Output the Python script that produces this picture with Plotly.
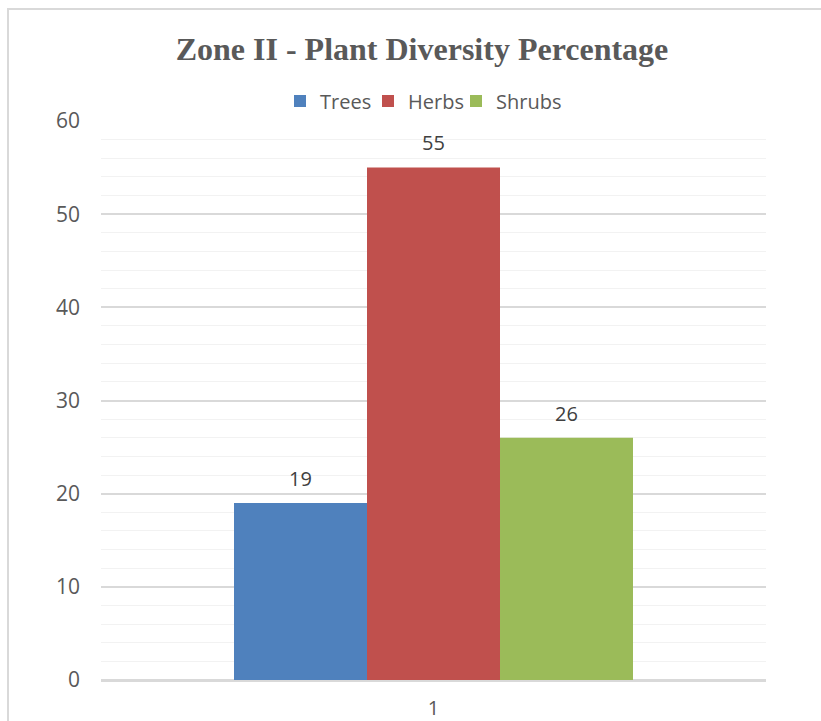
import plotly.graph_objects as go

categories = ["1"]
series_names = ["Trees", "Herbs", "Shrubs"]
trees = [19]
herbs = [55]
shrubs = [26]
series_values = [trees, herbs, shrubs]
colors = ["#4f81bd", "#c0504d", "#9bbb59"]
y_ticks = [0, 10, 20, 30, 40, 50, 60]

fig = go.Figure()
for name, vals, col in zip(series_names, series_values, colors):
    fig.add_trace(go.Bar(
        x=categories, y=vals, name=name, marker=dict(color=col, line=dict(width=0)),
        offsetgroup=name, hoverinfo="skip",
    ))
for name, vals in zip(series_names, series_values):
    fig.add_trace(go.Scatter(
        x=categories, y=vals, mode="markers+text", text=[str(v) for v in vals],
        textposition="top center", offsetgroup=name, showlegend=False,
        marker=dict(size=18, opacity=0), cliponaxis=False,
        textfont=dict(family="Open Sans", size=20, color="#404040"), hoverinfo="skip",
    ))
# invisible spacer entry so the last legend label is not clipped
fig.add_trace(go.Scatter(x=[None], y=[None], mode="markers", name=" ",
                         marker=dict(color="rgba(0,0,0,0)", size=1, line=dict(width=0, color="rgba(0,0,0,0)")),
                         showlegend=True, hoverinfo="skip"))

fig.update_layout(
    width=821, height=721, autosize=False,
    margin=dict(l=101, r=55, t=121, b=41, autoexpand=False),
    paper_bgcolor="white", plot_bgcolor="white",
    barmode="group", bargap=0.4, bargroupgap=0,
    scattermode="group", scattergap=0.4,
    title=dict(text="<b>Zone II - Plant Diversity Percentage</b>", x=422/821, xanchor="center",
               y=1 - 49/721, yanchor="middle", yref="container",
               font=dict(family="Liberation Serif", size=32, color="#595959")),
    legend=dict(orientation="h", x=(280-101)/665, xanchor="left", y=(680-101)/559, yanchor="middle",
                font=dict(family="Open Sans", size=20, color="#595959"),
                itemwidth=30, tracegroupgap=0, itemclick=False,
                entrywidth=43, entrywidthmode="pixels"),
    font=dict(family="Open Sans", color="#595959"),
    showlegend=True,
)
fig.update_yaxes(range=[0, 60], tickvals=y_ticks, showgrid=True, gridcolor="#d9d9d9", gridwidth=1.5,
                 zeroline=True, zerolinecolor="#d9d9d9", zerolinewidth=1.5,
                 minor=dict(dtick=2, showgrid=True, gridcolor="#f2f2f2", gridwidth=1.2),
                 tickfont=dict(family="Open Sans", size=21, color="#595959"),
                 ticklabelstandoff=20, showline=False)
fig.update_xaxes(type="category", showgrid=False, showline=True, linecolor="#d9d9d9", linewidth=1.5,
                 tickfont=dict(family="Open Sans", size=20, color="#595959"), ticklabelstandoff=9)
fig.add_shape(type="rect", xref="paper", yref="paper",
              x0=(8-101)/665, x1=(840-101)/665, y0=-0.2, y1=(680-9)/559,
              line=dict(color="#d9d9d9", width=2), fillcolor="rgba(0,0,0,0)", layer="below")

fig.write_html("out.html", config={"responsive": False, "displayModeBar": False},
               post_script="document.body.style.margin='0';document.body.style.overflow='hidden';")
